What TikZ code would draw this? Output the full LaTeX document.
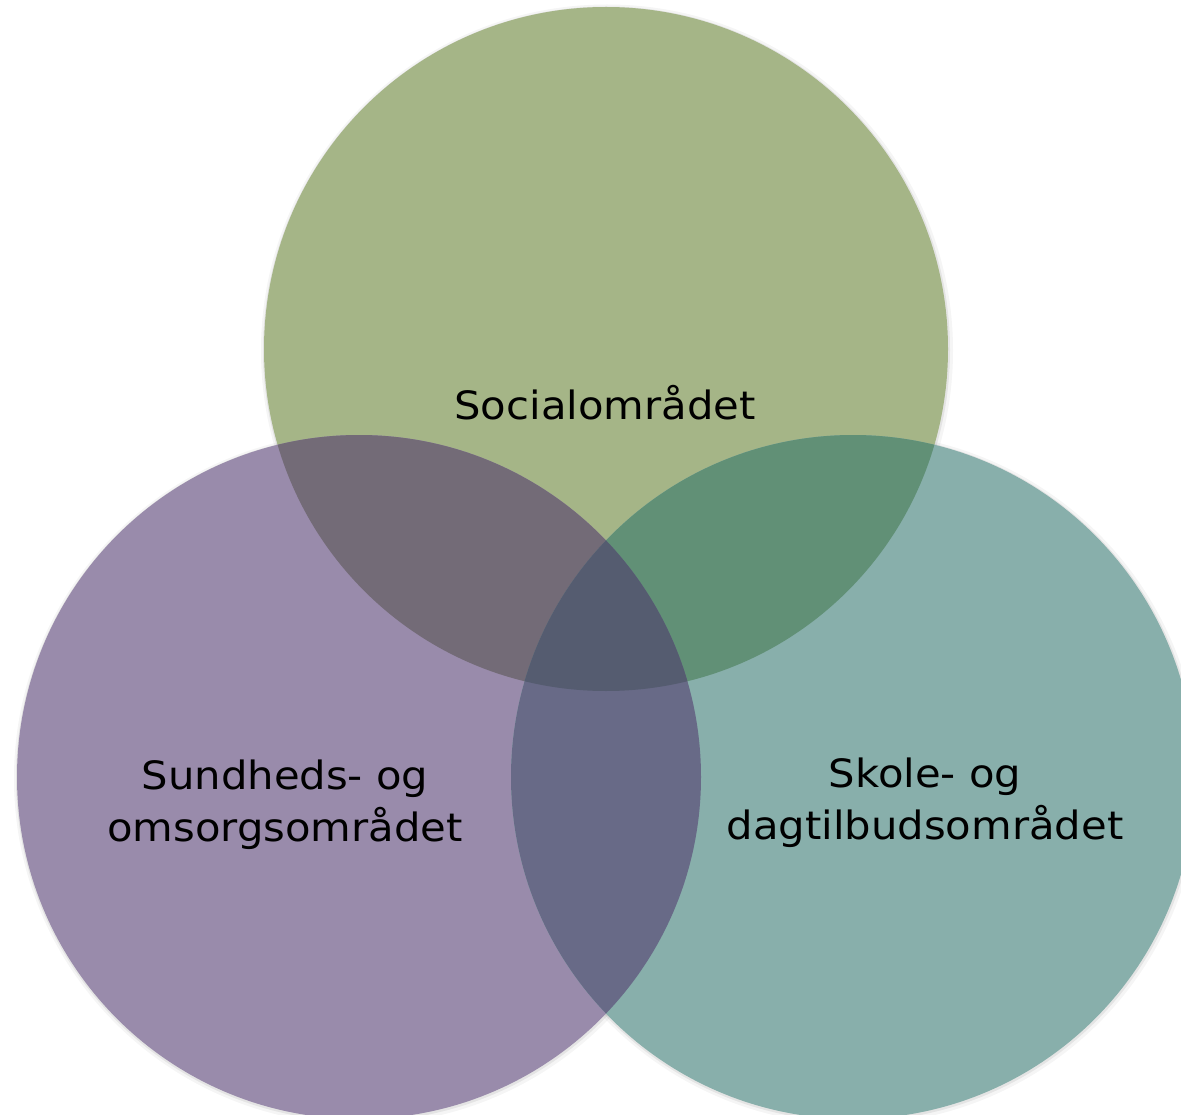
\documentclass[tikz,border=0pt]{standalone}
\usepackage{fontspec}
\setmainfont[FakeStretch=1.07]{DejaVu Sans}
\definecolor{cgreen}{HTML}{A5B587}
\definecolor{cpurple}{HTML}{998BAB}
\definecolor{cteal}{HTML}{88AFAB}
\definecolor{ctl}{HTML}{736B77}
\definecolor{ctr}{HTML}{619076}
\definecolor{clr}{HTML}{686A87}
\definecolor{ccen}{HTML}{555C70}
\begin{document}
\begin{tikzpicture}[x=1pt,y=-1pt,
  lbl/.style={font=\fontsize{39}{51.7}\selectfont, align=center, inner sep=0pt, anchor=base, text=black},
  shade1/.style={fill=black, opacity=0.07},
  shade2/.style={fill=black, opacity=0.04}]
\useasboundingbox (0,0) rectangle (1181,1115);
\clip (0,0) rectangle (1181,1115);
\coordinate (T) at (606,349);
\coordinate (L) at (359,777);
\coordinate (Rc) at (853,777);
% soft outer shadow
\foreach \c in {T,L,Rc} {
  \fill[shade2] ([shift={(1,1.5)}]\c) circle (346pt);
  \fill[shade1] ([shift={(0.5,1)}]\c) circle (343.5pt);
}
% circles
\fill[cgreen] (T) circle (342pt);
\fill[cpurple] (L) circle (342pt);
\fill[cteal] (Rc) circle (342pt);
% pairwise overlaps
\begin{scope}
  \clip (T) circle (342pt);
  \fill[ctl] (L) circle (342pt);
  \fill[ctr] (Rc) circle (342pt);
\end{scope}
\begin{scope}
  \clip (L) circle (342pt);
  \fill[clr] (Rc) circle (342pt);
  \clip (T) circle (342pt);
  \fill[ccen] (Rc) circle (342pt);
\end{scope}
% labels
\node[lbl] (soc) at (605,419) {Socialområdet};
\node[lbl] (sund) at (285,841) {Sundheds- og\\omsorgsområdet};
\node[lbl] (skole) at (925,839) {Skole- og\\dagtilbudsområdet};
\end{tikzpicture}
\end{document}
